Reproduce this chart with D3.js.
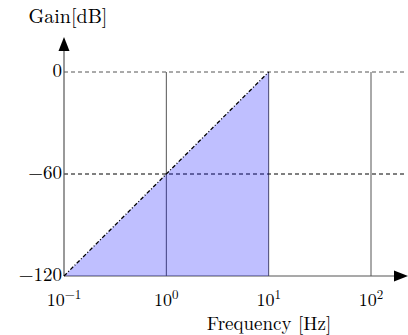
<!DOCTYPE html>
<html>
<head>
<meta charset="utf-8">
<script src="https://cdn.jsdelivr.net/npm/d3@7"></script>
<style>
  body { margin: 0; background: #fff; }
  text { font-family: "Latin Modern Roman", "Liberation Serif", serif; fill: #000; }
</style>
</head>
<body>
<svg id="chart" width="408" height="335"></svg>
<script>
// ---- data ----
var freqTicks = [0.1, 1, 10, 100];
var tickExp = ['\u22121', '0', '1', '2'];
var gainTicks = [0, -60, -120];
var gainLabels = ['0', '\u221260', '\u2212120'];
var gridGains = [0, -60];
var responseFreq = [0.1, 10];
var responseGain = [-120, 0];

var svg = d3.select('#chart');

// ---- scales ----
var x = d3.scaleLog().domain([0.1, 100]).range([64, 371]);
var y = d3.scaleLinear().domain([-120, 0]).range([276, 72]);

var xEnd = 396, yTop = 48;

// vertical grid lines
svg.selectAll('.vgrid').data(freqTicks.slice(1)).enter().append('line')
  .attr('x1', d => x(d)).attr('x2', d => x(d))
  .attr('y1', y(0)).attr('y2', y(-120))
  .attr('stroke', '#555').attr('stroke-width', 1);

// horizontal dashed grid
svg.selectAll('.hgrid').data(gridGains).enter().append('line')
  .attr('x1', x(0.1)).attr('x2', 404)
  .attr('y1', d => y(d)).attr('y2', d => y(d))
  .attr('stroke', d => d === 0 ? '#555' : '#000')
  .attr('stroke-width', 1)
  .attr('stroke-dasharray', '4,3');

// axes
svg.append('line').attr('x1', x(0.1)).attr('x2', xEnd)
  .attr('y1', y(-120)).attr('y2', y(-120))
  .attr('stroke', '#555').attr('stroke-width', 1.2);
svg.append('line').attr('x1', x(0.1)).attr('x2', x(0.1))
  .attr('y1', y(-120)).attr('y2', yTop)
  .attr('stroke', '#555').attr('stroke-width', 1.2);
svg.append('path')
  .attr('d', 'M' + (xEnd + 12) + ',' + y(-120) + 'L' + (xEnd - 2) + ',' + (y(-120) - 5.5) + 'L' + (xEnd - 2) + ',' + (y(-120) + 5.5) + 'Z')
  .attr('fill', '#000');
svg.append('path')
  .attr('d', 'M' + x(0.1) + ',' + (yTop - 11) + 'L' + (x(0.1) - 5.5) + ',' + (yTop + 3) + 'L' + (x(0.1) + 5.5) + ',' + (yTop + 3) + 'Z')
  .attr('fill', '#000');

// shaded region under the response
var pts = responseFreq.map((f, i) => [f, responseGain[i]]);
var area = d3.area().x(d => x(d[0])).y0(y(-120)).y1(d => y(d[1]));
svg.append('path').datum(pts)
  .attr('d', area)
  .attr('fill', '#0000ff').attr('fill-opacity', 0.25);

// dash-dot asymptote
var line = d3.line().x(d => x(d[0])).y(d => y(d[1]));
svg.append('path').datum(pts)
  .attr('d', line)
  .attr('fill', 'none').attr('stroke', '#000').attr('stroke-width', 1.3)
  .attr('stroke-dasharray', '4,2,1,2');

// x tick labels
var xl = svg.selectAll('.xl').data(freqTicks).enter().append('text')
  .attr('x', d => x(d)).attr('y', 306)
  .attr('text-anchor', 'middle').style('font-size', '18px');
xl.append('tspan').text('10');
xl.append('tspan').attr('dy', -7).style('font-size', '13px').text((d, i) => tickExp[i]);

// y tick labels
svg.selectAll('.yl').data(gainTicks).enter().append('text')
  .attr('x', x(0.1) - 2).attr('y', d => y(d) + 5)
  .attr('text-anchor', 'end').style('font-size', '19px')
  .text((d, i) => gainLabels[i]);

// axis titles
svg.append('text').attr('x', 269).attr('y', 330)
  .attr('text-anchor', 'middle').style('font-size', '19px').text('Frequency [Hz]');
svg.append('text').attr('x', 68).attr('y', 23)
  .attr('text-anchor', 'middle').style('font-size', '20px').text('Gain[dB]');
</script>
</body>
</html>
